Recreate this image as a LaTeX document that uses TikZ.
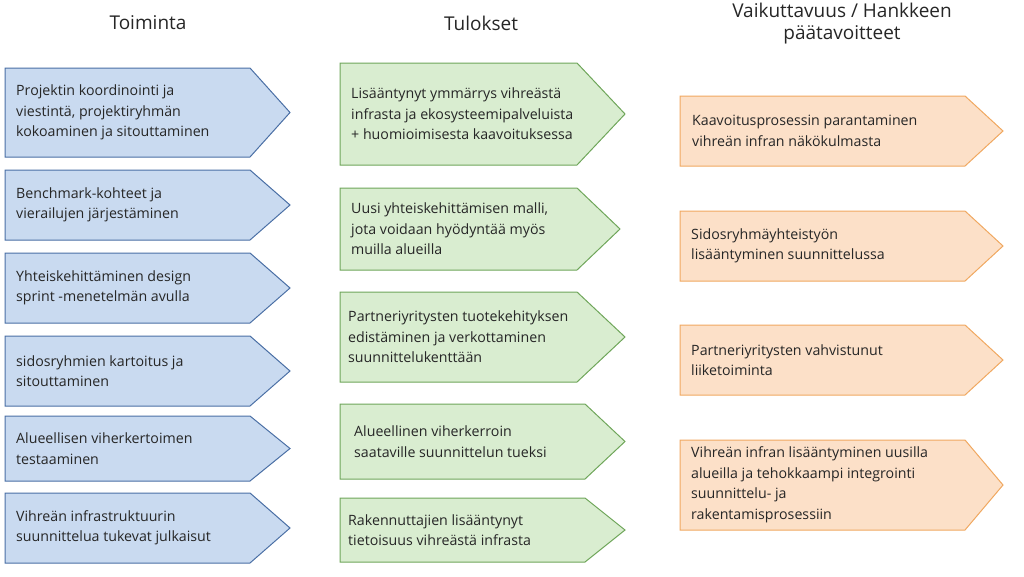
\documentclass[tikz,border=0pt]{standalone}
\usepackage{fontspec}
\setmainfont{Open Sans}
\definecolor{bfill}{HTML}{C9DAF0}\definecolor{bline}{HTML}{4A6FA5}
\definecolor{gfill}{HTML}{D9EDD0}\definecolor{gline}{HTML}{6FA65A}
\definecolor{ofill}{HTML}{FCE0C8}\definecolor{oline}{HTML}{F0A860}
\tikzset{
 blue/.style={fill=bfill,draw=bline,line width=1pt},
 green/.style={fill=gfill,draw=gline,line width=1pt},
 orange/.style={fill=ofill,draw=oline,line width=1pt},
 txt/.style={anchor=west,align=left,font=\fontsize{14.2}{20.5}\selectfont,text=black!85,inner sep=0pt},
 head/.style={align=center,font=\fontsize{19}{22}\selectfont,text=black!85}}
\newcommand{\abox}[9]{%
 \path[#7] (#2,#3) -- (#6,#3) -- (#4,{(#3+#5)/2}) -- (#6,#5) -- (#2,#5) -- cycle;
 \node[txt] (#1) at ({#2+#8},{(#3+#5)/2}) {#9};}
\begin{document}
\begin{tikzpicture}[x=1pt,y=-1pt]
\useasboundingbox (0,0) rectangle (1024,576);
\node[head] (h1) at (148,23) {Toiminta};
\node[head] (h2) at (481,23) {Tulokset};
\node[head] (h3) at (842,24) {Vaikuttavuus / Hankkeen\\päätavoitteet};
\abox{a1}{5}{68}{290}{157}{250}{blue}{11}{Projektin koordinointi ja\\viestintä, projektiryhmän\\kokoaminen ja sitouttaminen}
\abox{a2}{5}{170}{290}{240}{250}{blue}{11}{Benchmark-kohteet ja\\vierailujen järjestäminen}
\abox{a3}{5}{253}{290}{323}{250}{blue}{11}{Yhteiskehittäminen design\\sprint -menetelmän avulla}
\abox{a4}{5}{336}{290}{406}{250}{blue}{11}{sidosryhmien kartoitus ja\\sitouttaminen}
\abox{a5}{5}{416}{290}{481}{250}{blue}{11}{Alueellisen viherkertoimen\\testaaminen}
\abox{a6}{5}{493}{290}{563}{250}{blue}{11}{Vihreän infrastruktuurin\\suunnittelua tukevat julkaisut}
\abox{b1}{340}{63}{625}{165}{577}{green}{11}{Lisääntynyt ymmärrys vihreästä\\infrasta ja ekosysteemipalveluista\\+ huomioimisesta kaavoituksessa}
\abox{b2}{340}{188}{620}{270}{577}{green}{11}{Uusi yhteiskehittämisen malli,\\jota voidaan hyödyntää myös\\muilla alueilla}
\abox{b3}{340}{292}{625}{382}{577}{green}{8}{Partneriyritysten tuotekehityksen\\edistäminen ja verkottaminen\\suunnittelukenttään}
\abox{b4}{340}{404}{625}{479}{585}{green}{14}{Alueellinen viherkerroin\\saataville suunnittelun tueksi}
\abox{b5}{340}{498}{625}{562}{585}{green}{8}{Rakennuttajien lisääntynyt\\tietoisuus vihreästä infrasta}
\abox{c1}{680}{96}{1003}{166}{965}{orange}{12}{Kaavoitusprosessin parantaminen\\vihreän infran näkökulmasta}
\abox{c2}{680}{211}{1003}{281}{965}{orange}{11}{Sidosryhmäyhteistyön\\lisääntyminen suunnittelussa}
\abox{c3}{680}{325}{1003}{395}{965}{orange}{11}{Partneriyritysten vahvistunut\\liiketoiminta}
\abox{c4}{680}{440}{1003}{530}{965}{orange}{11}{Vihreän infran lisääntyminen uusilla\\alueilla ja tehokkaampi integrointi\\suunnittelu- ja\\rakentamisprosessiin}
\end{tikzpicture}
\end{document}
